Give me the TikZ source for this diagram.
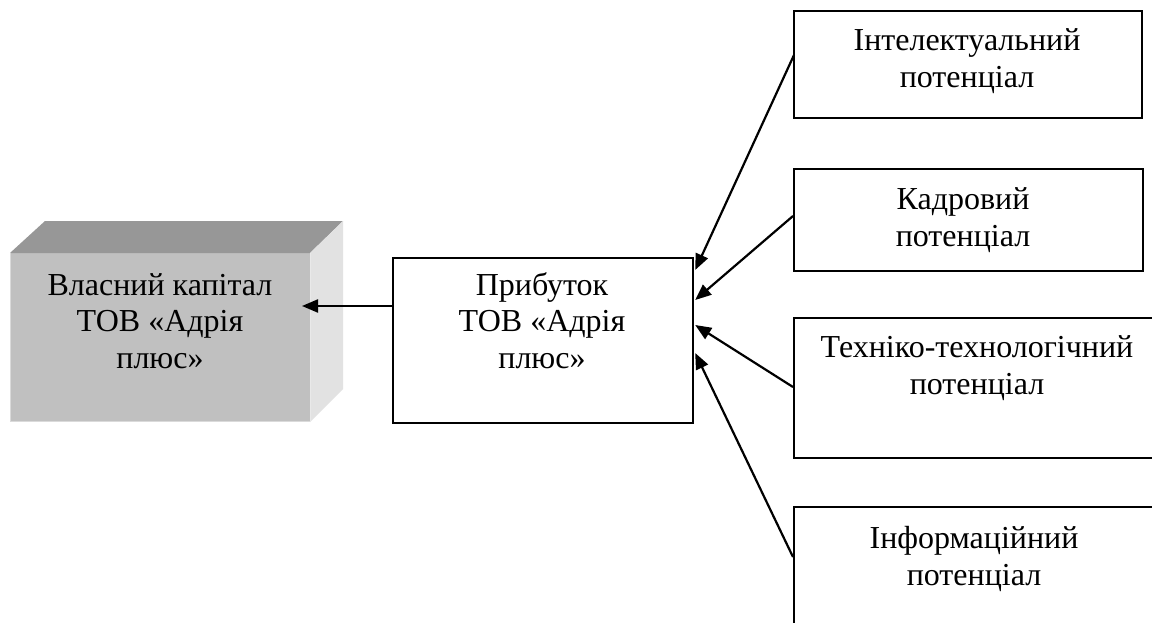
\documentclass[tikz,border=0pt]{standalone}
\usepackage{fontspec}
\setmainfont{Liberation Serif}
\usetikzlibrary{arrows.meta,calc}
\definecolor{frontc}{HTML}{C0C0C0}
\definecolor{topc}{HTML}{979797}
\definecolor{sidec}{HTML}{E2E2E2}
\definecolor{edgec}{HTML}{DADADA}
\begin{document}
\begin{tikzpicture}[x=1pt,y=-1pt,
  box/.style={draw, line width=2.2pt, inner sep=0pt, anchor=north west},
  txt/.style={font=\fontsize{32}{36.5}\selectfont, align=center, inner sep=0pt, anchor=base},
  arr/.style={line width=2.2pt, -{Triangle[length=16pt,width=13pt]}}]
\useasboundingbox (0,0) rectangle (1152,622);
\clip (0,0) rectangle (1152,622);
\fill[white] (0,0) rectangle (1152,622);
% 3D block
\fill[frontc] (10,253) rectangle (310,422);
\fill[topc] (10,253) -- (45,221) -- (343,221) -- (310,253) -- cycle;
\fill[sidec] (310,253) -- (343,221) -- (343,389) -- (310,422) -- cycle;
\draw[edgec, line width=1pt] (10.5,253) -- (10.5,421.5) -- (310,421.5);
\draw[edgec!60!white, line width=1pt] (310.5,253) -- (310.5,422);
\node[txt] (v) at (160,368) {Власний капітал\\ТОВ «Адрія\\плюс»};
\coordinate (vin) at (302,306);
% central box
\node[box, minimum width=300pt, minimum height=165pt] (p) at (392,257) {};
\node[txt] (pt) at (542,368) {Прибуток\\ТОВ «Адрія\\плюс»};
% right boxes
\node[box, minimum width=348pt, minimum height=107pt] (b1) at (793,10) {};
\node[txt] (t1) at (967,87) {Інтелектуальний\\потенціал};
\node[box, minimum width=349pt, minimum height=102pt] (b2) at (793,168) {};
\node[txt] (t2) at (963,246) {Кадровий\\потенціал};
\node[box, minimum width=370pt, minimum height=140pt] (b3) at (793,317) {};
\node[txt] (t3) at (977,394) {Техніко-технологічний\\потенціал};
\node[box, minimum width=370pt, minimum height=200pt] (b4) at (793,506) {};
\node[txt] (t4) at (974,585) {Інформаційний\\потенціал};
% arrow targets on the right side of the central box
\coordinate (p1) at ($(p.north east)+(1,13)$);
\coordinate (p2) at ($(p.north east)+(1,43)$);
\coordinate (p3) at ($(p.north east)+(1,68)$);
\coordinate (p4) at ($(p.north east)+(1,96)$);
% arrows
\draw[arr] ($(p.north west)+(0,49)$) -- (vin);
\draw[arr] ($(b1.north west)+(1,45)$) -- (p1);
\draw[arr] ($(b2.north west)+(0,48)$) -- (p2);
\draw[arr] ($(b3.north west)+(0,70)$) -- (p3);
\draw[arr] ($(b4.north west)+(0,51)$) -- (p4);
\end{tikzpicture}
\end{document}
